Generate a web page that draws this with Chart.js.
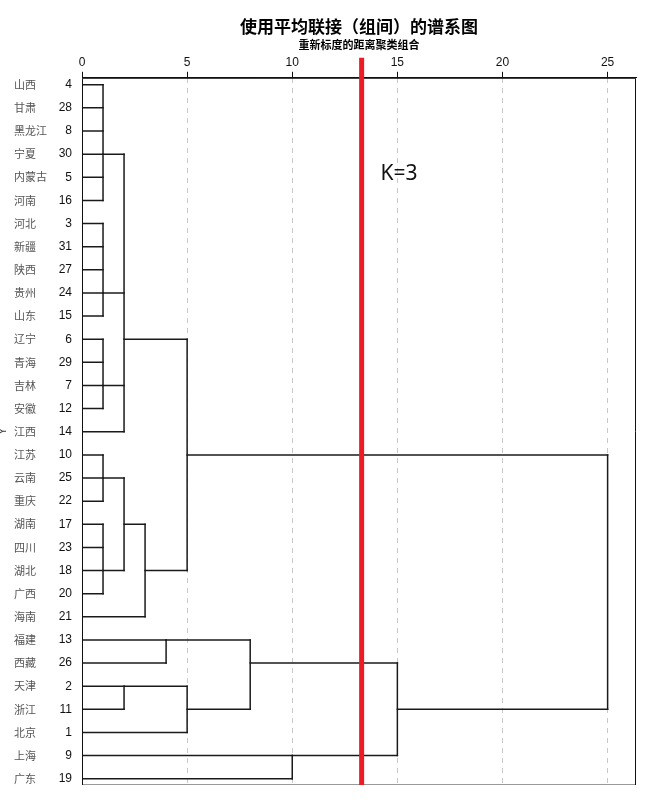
<!DOCTYPE html>
<html lang="zh">
<head>
    <meta charset="UTF-8">
    <title>使用平均联接（组间）的谱系图</title>
    <script src="https://cdn.jsdelivr.net/npm/chart.js@4.4.0/dist/chart.umd.min.js"></script>
    <style>
        body { margin: 0; background: #fff; }
        .chart-box { width: 671px; height: 806px; }
    </style>
</head>
<body>
    <div class="chart-box"><canvas id="dendro"></canvas></div>

    <script>
        // leaves, top to bottom
        const provinces = ['山西', '甘肃', '黑龙江', '宁夏', '内蒙古', '河南', '河北', '新疆', '陕西', '贵州', '山东',
            '辽宁', '青海', '吉林', '安徽', '江西', '江苏', '云南', '重庆', '湖南', '四川', '湖北', '广西', '海南',
            '福建', '西藏', '天津', '浙江', '北京', '上海', '广东'];
        const caseIds = [4, 28, 8, 30, 5, 16, 3, 31, 27, 24, 15, 6, 29, 7, 12, 14, 10, 25, 22, 17, 23, 18, 20, 21,
            13, 26, 2, 11, 1, 9, 19];

        // merge steps: children are leaf indexes (0-30) or earlier merges (31+)
        const mergeChildren = [
            [0, 1, 2, 3, 4, 5], [6, 7, 8, 9, 10], [11, 12, 13, 14], [31, 32, 33, 15],
            [16, 17, 18], [19, 20, 21, 22], [35, 36], [37, 23], [34, 38],
            [24, 25], [26, 27], [41, 28], [40, 42], [29, 30], [43, 44], [39, 45]
        ];
        const mergeDistance = [1, 1, 1, 2, 1, 1, 2, 3, 5, 4, 2, 5, 8, 10, 15, 25];
        const mergeRow = [4, 10, 14, 12, 18, 22, 20, 22, 17, 25, 27, 28, 26, 30, 28, 22];

        const distanceTicks = [0, 5, 10, 15, 20, 25];
        const cutDistance = 13.3;
        const cutLabel = 'K=3';
        const cutLabelAt = [14.2, 4.85];

        function buildSegments() {
            const nodeRow = provinces.map((p, i) => i + 1);
            const nodeDist = provinces.map(() => 0);
            const segs = [];
            mergeChildren.forEach((kids, m) => {
                const d = mergeDistance[m];
                const rows = kids.map(k => nodeRow[k]);
                kids.forEach(k => {
                    segs.push([{ x: nodeDist[k], y: nodeRow[k] }, { x: d, y: nodeRow[k] }]);
                });
                segs.push([{ x: d, y: Math.min(...rows) }, { x: d, y: Math.max(...rows) }]);
                nodeRow.push(mergeRow[m]);
                nodeDist.push(d);
            });
            return segs;
        }

        const extras = {
            id: 'extras',
            afterDatasetsDraw(chart) {
                const { ctx, chartArea: a, scales: { x, y } } = chart;
                ctx.save();
                // frame
                ctx.lineWidth = 1;
                ctx.strokeStyle = '#999';
                ctx.beginPath(); ctx.moveTo(a.left, a.bottom - 0.5); ctx.lineTo(a.right, a.bottom - 0.5); ctx.stroke();
                ctx.strokeStyle = '#111';
                ctx.beginPath();
                ctx.moveTo(a.left + 0.5, a.bottom); ctx.lineTo(a.left + 0.5, a.top + 0.5);
                ctx.lineTo(a.right - 0.5, a.top + 0.5); ctx.lineTo(a.right - 0.5, a.bottom);
                ctx.stroke();

                // cut line
                const cx = x.getPixelForValue(cutDistance);
                ctx.strokeStyle = '#ed1c24';
                ctx.lineWidth = 5;
                ctx.beginPath(); ctx.moveTo(cx, a.top - 20); ctx.lineTo(cx, a.bottom); ctx.stroke();

                ctx.fillStyle = '#111';
                ctx.font = '21px "Noto Sans"';
                ctx.textBaseline = 'middle';
                ctx.textAlign = 'left';
                ctx.fillText(cutLabel, x.getPixelForValue(cutLabelAt[0]), y.getPixelForValue(cutLabelAt[1]));

                // clipped axis title on the far left
                ctx.translate(3, (a.top + a.bottom) / 2);
                ctx.rotate(-Math.PI / 2);
                ctx.textAlign = 'center';
                ctx.font = '11px "Liberation Sans"';
                ctx.fillStyle = '#333';
                ctx.fillText('Y', 0, 0);
                ctx.restore();
            }
        };

        const rowTicks = s => { s.ticks = caseIds.map((_, i) => ({ value: i + 1 })); };

        new Chart(document.getElementById('dendro'), {
            type: 'scatter',
            data: {
                datasets: buildSegments().map(seg => ({
                    data: seg,
                    showLine: true,
                    borderColor: '#1a1a1a',
                    borderWidth: 1.5,
                    borderCapStyle: 'square',
                    pointRadius: 0,
                    xAxisID: 'x',
                    yAxisID: 'y'
                }))
            },
            options: {
                responsive: true,
                maintainAspectRatio: false,
                animation: false,
                layout: { padding: { top: 10, left: 14, right: 35, bottom: 21 } },
                plugins: {
                    legend: { display: false },
                    tooltip: { enabled: false },
                    title: {
                        display: true,
                        fullSize: false,
                        text: '使用平均联接（组间）的谱系图',
                        color: '#000',
                        font: { family: 'Noto Sans CJK SC', size: 17, weight: 'bold' },
                        padding: { top: 6, bottom: 0 }
                    },
                    subtitle: {
                        display: true,
                        fullSize: false,
                        text: '重新标度的距离聚类组合',
                        color: '#000',
                        font: { family: 'Noto Sans CJK SC', size: 11, weight: 'bold' },
                        padding: { top: 2, bottom: 1.8 }
                    }
                },
                scales: {
                    x: {
                        type: 'linear',
                        position: 'top',
                        min: 0,
                        max: 26.35,
                        afterBuildTicks: s => { s.ticks = distanceTicks.map(v => ({ value: v })); },
                        ticks: {
                            color: '#111',
                            padding: 2,
                            maxRotation: 0,
                            font: { family: 'Liberation Sans', size: 12 }
                        },
                        grid: {
                            color: c => (c.tick && c.tick.value === 0) ? 'rgba(0,0,0,0)' : '#c8c8c8',
                            tickColor: '#111',
                            tickLength: 6
                        },
                        border: { display: true, color: '#111', dash: [5, 5] }
                    },
                    y: {
                        type: 'linear',
                        position: 'left',
                        reverse: true,
                        min: 0.7,
                        max: 31.27,
                        weight: 0,
                        afterBuildTicks: rowTicks,
                        afterFit: s => { s.width = 27; },
                        ticks: {
                            autoSkip: false,
                            padding: 2,
                            color: '#111',
                            font: { family: 'Liberation Sans', size: 12 },
                            callback: v => caseIds[v - 1]
                        },
                        grid: { display: false },
                        border: { display: false }
                    },
                    names: {
                        type: 'linear',
                        position: 'left',
                        reverse: true,
                        min: 0.7,
                        max: 31.27,
                        weight: 1,
                        afterBuildTicks: rowTicks,
                        afterFit: s => { s.width = 41; },
                        ticks: {
                            autoSkip: false,
                            crossAlign: 'far',
                            color: '#555',
                            font: { family: 'Noto Sans CJK SC', size: 11 },
                            callback: v => provinces[v - 1]
                        },
                        grid: { display: false },
                        border: { display: false }
                    }
                }
            },
            plugins: [extras]
        });
    </script>
</body>
</html>
